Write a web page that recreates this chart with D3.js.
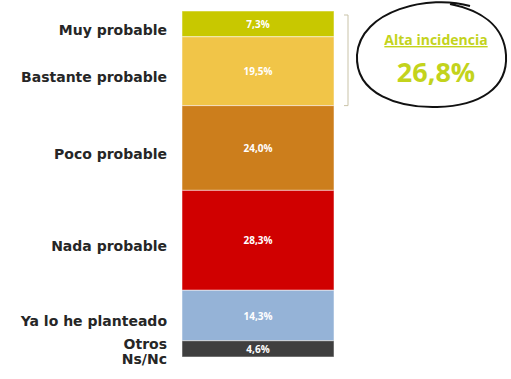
<!DOCTYPE html>
<html>
<head>
<meta charset="utf-8">
<script src="https://cdn.jsdelivr.net/npm/d3@7"></script>
<style>
  body { margin: 0; background: #fff; }
  svg { display: block; }
  .cat { font-family: "DejaVu Sans", sans-serif; font-weight: 700; font-size: 14px; fill: #262626; }
  .val { font-family: "Open Sans", sans-serif; font-weight: 700; font-size: 10px; fill: #fff; }
  .alta { font-family: "Open Sans", sans-serif; font-weight: 700; fill: #c3d31c; }
</style>
</head>
<body>
<script>
// categories from top to bottom
var categories = ["Muy probable", "Bastante probable", "Poco probable", "Nada probable", "Ya lo he planteado", "Otros|Ns/Nc"];
var values = [7.3, 19.5, 24.0, 28.3, 14.3, 4.6];
var valueLabels = ["7,3%", "19,5%", "24,0%", "28,3%", "14,3%", "4,6%"];
var colors = ["#c8c800", "#f1c548", "#cc7e1c", "#d00000", "#95b3d7", "#3f3f3f"];
var highlight = { label: "Alta incidencia", value: "26,8%" };

var width = 511, height = 379;
var svg = d3.select("body").append("svg").attr("width", width).attr("height", height);

// stack the segments
var stacked = [];
var acc = 0;
values.forEach(function(v, i){
  stacked.push({ name: categories[i], v0: acc, v1: acc + v, label: valueLabels[i], color: colors[i] });
  acc += v;
});

var y = d3.scaleLinear().domain([0, acc]).range([11, 357]);
var barX = 182, barW = 152;

var seg = svg.append("g").attr("data-part", "bar");
seg.selectAll("rect")
  .data(stacked)
  .enter().append("rect")
  .attr("x", barX)
  .attr("y", function(d){ return y(d.v0); })
  .attr("width", barW)
  .attr("height", function(d){ return y(d.v1) - y(d.v0); })
  .attr("fill", function(d){ return d.color; })
  .attr("stroke", "#fff")
  .attr("stroke-opacity", 0.5)
  .attr("stroke-width", 1);

seg.selectAll("text.val")
  .data(stacked)
  .enter().append("text")
  .attr("class", "val")
  .attr("x", barX + barW / 2)
  .attr("y", function(d){ return (y(d.v0) + y(d.v1)) / 2 + 4; })
  .attr("text-anchor", "middle")
  .text(function(d){ return d.label; });

// category labels on the left
var cats = svg.append("g").attr("data-part", "categories");
stacked.forEach(function(d, i){
  var mid = (y(d.v0) + y(d.v1)) / 2;
  var lines = d.name.split("|");
  if (lines.length > 1) {
    lines.forEach(function(l, j){
      cats.append("text")
        .attr("class", "cat")
        .attr("text-anchor", "end")
        .attr("font-size", 11)
        .attr("x", 167)
        .attr("y", mid + j * 15)
        .text(l);
    });
  } else {
    cats.append("text")
      .attr("class", "cat")
      .attr("text-anchor", "end")
      .attr("x", 167)
      .attr("y", mid + 11 - (i == 4 ? 1 : 0))
      .text(lines[0]);
  }
});

// bracket for the first two segments
var bx = 348;
var bTop = y(stacked[0].v0) + 4, bBot = y(stacked[1].v1);
svg.append("path")
  .attr("d", "M" + (bx - 4) + "," + bTop + "H" + bx + "V" + bBot + "H" + (bx - 4))
  .attr("fill", "none")
  .attr("stroke", "#c9c3a8")
  .attr("stroke-width", 1);

// hand-drawn circle with the total
var circ = svg.append("g").attr("data-part", "highlight");
circ.append("path")
  .attr("d", "M470,6 C430,-6 360,10 357,55 C355,95 400,108 437,107 C480,106 508,88 506,55 C504,25 480,10 450,4")
  .attr("fill", "none")
  .attr("stroke", "#111")
  .attr("stroke-width", 2);
circ.append("text")
  .attr("class", "alta")
  .attr("x", 436)
  .attr("y", 45)
  .attr("text-anchor", "middle")
  .attr("font-size", 14)
  .attr("text-decoration", "underline")
  .text(highlight.label);
circ.append("text")
  .attr("class", "alta")
  .attr("x", 436)
  .attr("y", 82)
  .attr("text-anchor", "middle")
  .attr("font-size", 27)
  .text(highlight.value);
</script>
</body>
</html>
